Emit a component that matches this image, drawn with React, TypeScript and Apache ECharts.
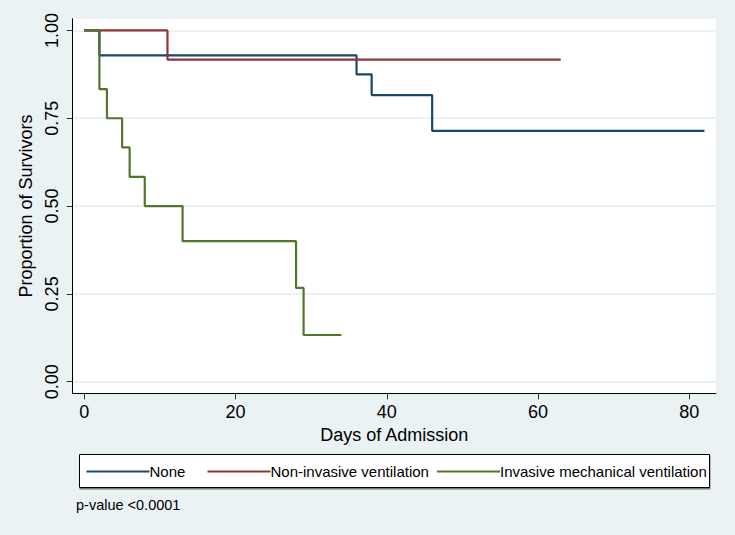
import React, { useEffect, useRef } from "react";
import * as echarts from "echarts";

const seriesNames = ["None", "Non-invasive ventilation", "Invasive mechanical ventilation"];
const noneTimes = [0, 2, 36, 38, 46, 82];
const noneSurv = [1, 0.929, 0.875, 0.816, 0.714, 0.714];
const nivTimes = [0, 11, 63];
const nivSurv = [1, 0.917, 0.917];
const imvTimes = [0, 2, 3, 5, 6, 8, 13, 28, 29, 34];
const imvSurv = [1, 0.833, 0.75, 0.667, 0.583, 0.5, 0.4, 0.267, 0.133, 0.133];
const xTicks = [0, 20, 40, 60, 80];
const yTicks = [0, 0.25, 0.5, 0.75, 1];
const xTitle = "Days of Admission";
const yTitle = "Proportion of Survivors";
const note = "p-value <0.0001";

const colors = ["#1A476F", "#90353B", "#55752F"];
const FONT = "'Liberation Sans', Arial, Helvetica, sans-serif";

const zip = (t: number[], s: number[]) => t.map((v, i) => [v, s[i]]);

export default function App() {
  const ref = useRef<HTMLDivElement>(null);
  useEffect(() => {
    if (!ref.current) return;
    const chart = echarts.init(ref.current, undefined, { renderer: "svg" });
    const dataSets = [zip(noneTimes, noneSurv), zip(nivTimes, nivSurv), zip(imvTimes, imvSurv)];
    const legendLefts = [86.5, 207.5, 437];
    chart.setOption({
      animation: false,
      backgroundColor: "#EAF2F3",
      textStyle: { fontFamily: FONT },
      grid: {
        left: 72.7,
        right: 19,
        top: 18.7,
        bottom: 141.7,
        show: true,
        backgroundColor: "#ffffff",
        borderWidth: 0,
      },
      xAxis: {
        type: "value",
        min: -1.53,
        max: 83.53,
        name: xTitle,
        nameLocation: "middle",
        nameGap: 31,
        nameTextStyle: { fontSize: 18, color: "#000", fontFamily: FONT },
        axisLine: { onZero: false, lineStyle: { color: "#000", width: 1 } },
        axisTick: { show: true, length: 6, customValues: xTicks, lineStyle: { color: "#333" } },
        axisLabel: { customValues: xTicks, fontSize: 18, color: "#000", margin: 10, fontFamily: FONT },
        splitLine: { show: false },
      },
      yAxis: {
        type: "value",
        min: -0.033,
        max: 1.0333,
        name: yTitle,
        nameLocation: "middle",
        nameGap: 31,
        nameTextStyle: { fontSize: 18, color: "#000", fontFamily: FONT },
        axisLine: { show: true, onZero: false, lineStyle: { color: "#000", width: 1 } },
        axisTick: { show: true, length: 6, customValues: yTicks, lineStyle: { color: "#333" } },
        axisLabel: {
          customValues: yTicks,
          rotate: 90,
          fontSize: 18,
          color: "#000",
          margin: 12,
          fontFamily: FONT,
          formatter: (v: number) => v.toFixed(2),
        },
        splitLine: { show: true, lineStyle: { color: "#E6EEF1", width: 1.5 } },
      },
      legend: seriesNames.map((n, i) => ({
        data: [n],
        left: legendLefts[i],
        top: 464,
        padding: 0,
        icon: "rect",
        itemWidth: 63,
        itemHeight: 2.2,
        z: 5,
        selectedMode: false,
        itemStyle: { color: colors[i], borderWidth: 0 },
        textStyle: { fontSize: 15, color: "#000", fontFamily: FONT, padding: [0, 0, 0, -5] },
      })),
      graphic: [
        {
          type: "rect",
          z: 1,
          shape: { x: 79.5, y: 454.5, width: 630, height: 33 },
          style: { fill: "#fff", stroke: "#000", lineWidth: 1, shadowColor: "#777", shadowOffsetY: 1.5, shadowOffsetX: 0.5, shadowBlur: 0 },
        },
        {
          type: "text",
          z: 5,
          x: 76,
          y: 505,
          style: { text: note, fontSize: 14.5, fill: "#000", fontFamily: FONT, textVerticalAlign: "middle", verticalAlign: "middle" },
        },
      ],
      series: seriesNames.map((n, i) => ({
        name: n,
        type: "line",
        step: "end",
        symbol: "none",
        data: dataSets[i],
        color: colors[i],
        lineStyle: { color: colors[i], width: 2.2 },
        z: 2 + i,
      })),
    });
    return () => chart.dispose();
  }, []);
  return <div ref={ref} style={{ position: "fixed", left: 0, top: 0, width: 735, height: 535 }} />;
}
